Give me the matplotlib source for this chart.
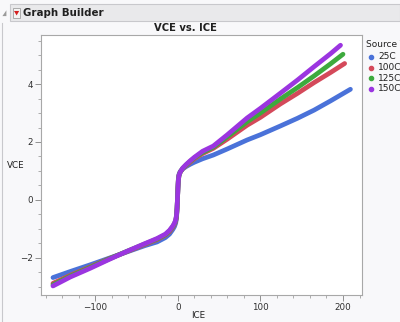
import numpy as np
import matplotlib.pyplot as plt
from matplotlib.patches import Rectangle, Polygon
from matplotlib.ticker import MultipleLocator

# Values (ICE, VCE) for each source table
series = ["25C", "100C", "125C", "150C"]
colors = ["#4a72d9", "#d4495a", "#3daa3d", "#9b35e0"]

ice_25 = [-151, -130, -106, -85, -62, -40, -25, -15, -10, -6, -4, -2.5, -1.5, -0.8, -0.3, 0.2, 0.7, 1.5, 3, 6, 10, 15, 20, 30, 43, 60, 84, 100, 124, 145, 165, 185, 209]
vce_25 = [-2.68, -2.47, -2.24, -2.03, -1.80, -1.58, -1.45, -1.30, -1.18, -1.02, -0.92, -0.80, -0.62, -0.30, 0.05, 0.40, 0.70, 0.88, 0.98, 1.07, 1.15, 1.23, 1.30, 1.42, 1.55, 1.76, 2.07, 2.25, 2.55, 2.82, 3.10, 3.42, 3.82]

ice_100 = [-151, -130, -106, -85, -62, -40, -25, -15, -10, -6, -4, -2.5, -1.5, -0.8, -0.3, 0.2, 0.7, 1.5, 3, 6, 10, 15, 20, 30, 43, 60, 84, 100, 124, 145, 165, 185, 202]
vce_100 = [-2.88, -2.60, -2.31, -2.05, -1.79, -1.54, -1.37, -1.22, -1.10, -0.95, -0.85, -0.74, -0.58, -0.28, 0.05, 0.40, 0.68, 0.85, 0.96, 1.08, 1.18, 1.30, 1.42, 1.60, 1.78, 2.10, 2.58, 2.85, 3.31, 3.68, 4.05, 4.40, 4.71]

ice_125 = [-151, -130, -106, -85, -62, -40, -25, -15, -10, -6, -4, -2.5, -1.5, -0.8, -0.3, 0.2, 0.7, 1.5, 3, 6, 10, 15, 20, 30, 43, 60, 84, 100, 124, 145, 165, 185, 200]
vce_125 = [-2.93, -2.63, -2.33, -2.06, -1.78, -1.52, -1.35, -1.20, -1.07, -0.92, -0.82, -0.71, -0.55, -0.26, 0.05, 0.40, 0.67, 0.84, 0.96, 1.09, 1.20, 1.33, 1.45, 1.64, 1.82, 2.18, 2.70, 3.00, 3.48, 3.88, 4.28, 4.70, 5.03]

ice_150 = [-151, -130, -106, -85, -62, -40, -25, -15, -10, -6, -4, -2.5, -1.5, -0.8, -0.3, 0.2, 0.7, 1.5, 3, 6, 10, 15, 20, 30, 43, 60, 84, 100, 124, 145, 165, 185, 197]
vce_150 = [-2.97, -2.66, -2.36, -2.08, -1.78, -1.51, -1.33, -1.18, -1.05, -0.90, -0.80, -0.69, -0.53, -0.25, 0.05, 0.40, 0.66, 0.84, 0.96, 1.10, 1.22, 1.35, 1.47, 1.68, 1.86, 2.25, 2.83, 3.16, 3.68, 4.14, 4.60, 5.05, 5.34]

xs = [ice_25, ice_100, ice_125, ice_150]
ys = [vce_25, vce_100, vce_125, vce_150]

fig = plt.figure(figsize=(4.0, 3.22), dpi=100)
fig.patch.set_facecolor("#f8f8fa")

# Header bar
fig.patches.append(Rectangle((0.025, 0.935), 0.975, 0.053, transform=fig.transFigure,
                             facecolor="#e9e9eb", edgecolor="#c8c8cc", lw=0.8))
fig.patches.append(Rectangle((0.032, 0.945), 0.019, 0.030, transform=fig.transFigure,
                             facecolor="#f4f4f4", edgecolor="#a0a0a0", lw=0.6))
fig.patches.append(Polygon([(0.035, 0.966), (0.048, 0.966), (0.0415, 0.952)], closed=True,
                           transform=fig.transFigure, facecolor="#d42020", edgecolor="none"))
fig.patches.append(Polygon([(0.006, 0.950), (0.016, 0.968), (0.016, 0.950)], closed=True,
                           transform=fig.transFigure, facecolor="#9a9a9a", edgecolor="none"))
fig.text(0.057, 0.961, "Graph Builder", fontsize=7.4, fontweight="bold", va="center", color="#202020")
fig.lines.append(plt.Line2D([0.004, 0.004], [0.0, 0.93], transform=fig.transFigure, color="#c8c8cc", lw=0.8))

ax = fig.add_axes([0.1025, 0.084, 0.8025, 0.807])
ax.set_facecolor("white")

for x, y, c, name in zip(xs, ys, colors, series):
    ax.plot(x, y, color=c, lw=3.4, solid_capstyle="round", solid_joinstyle="round", label=name)

ax.set_xlim(-165.5, 223)
ax.set_ylim(-3.28, 5.69)
ax.xaxis.set_major_locator(MultipleLocator(100))
ax.xaxis.set_minor_locator(MultipleLocator(20))
ax.yaxis.set_major_locator(MultipleLocator(2))
ax.yaxis.set_minor_locator(MultipleLocator(0.5))
ax.tick_params(which="major", length=4, width=0.7, color="#909090", labelsize=6.3, labelcolor="#303030", pad=2)
ax.tick_params(which="minor", length=2.5, width=0.6, color="#a0a0a0")
for s in ax.spines.values():
    s.set_color("#a8a8a8")
    s.set_linewidth(0.8)

fig.text(0.4625, 0.913, "VCE vs. ICE", fontsize=7.2, fontweight="bold", ha="center", va="center", color="#202020")
ax.set_xlabel("ICE", fontsize=6.3, color="#202020", va="center")
ax.xaxis.set_label_coords(0.49, -0.08)
ax.set_ylabel("VCE", fontsize=6.3, color="#202020", rotation=0, ha="center", va="center")
ax.yaxis.set_label_coords(-0.078, 0.5)

# Legend
fig.text(0.915, 0.862, "Source Table", fontsize=6.5, color="#202020", va="center", clip_on=False)
leg_y = [0.824, 0.790, 0.757, 0.725]
for yy, c, name in zip(leg_y, colors, series):
    fig.lines.append(plt.Line2D([0.928], [yy], transform=fig.transFigure, marker="o",
                                markersize=3, color=c, lw=0))
    fig.text(0.945, yy, name, fontsize=6.5, color="#202020", va="center")

fig.savefig("out.png", dpi=100, facecolor=fig.get_facecolor())
